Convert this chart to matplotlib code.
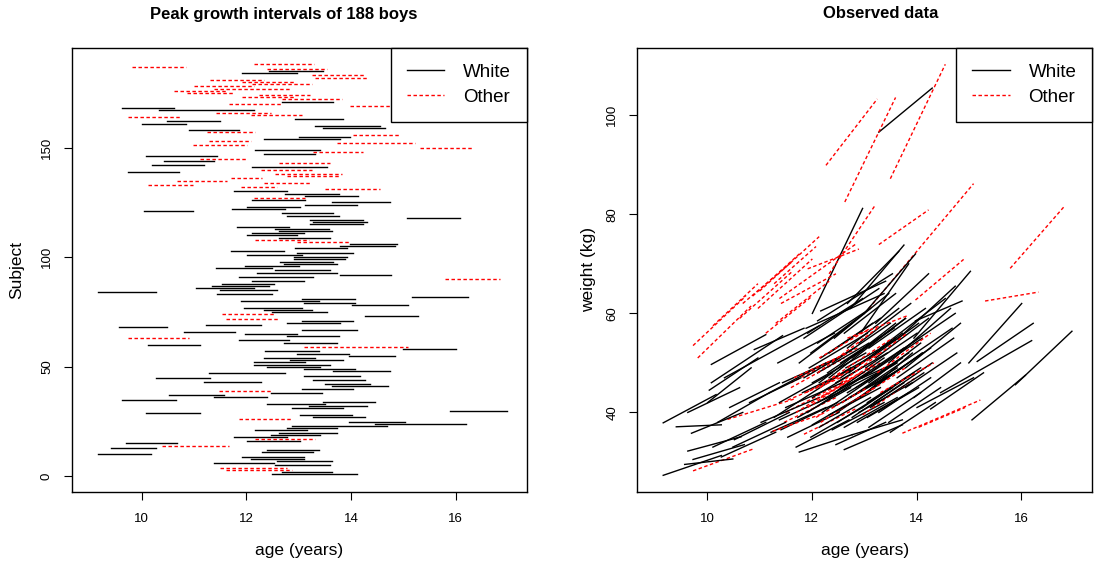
import numpy as np
import matplotlib.pyplot as plt
from matplotlib.lines import Line2D

plt.rcParams['font.family'] = ['Liberation Sans', 'DejaVu Sans']

# ages at start / end of the peak growth interval, subjects 1..188
age_start = [
    12.49, 12.68, 11.60, 11.50, 12.55, 11.38, 12.58, 12.08, 11.92, 9.16,
    12.30, 12.39, 9.41, 10.39, 9.70, 12.01, 12.17, 11.76, 12.46, 12.62,
    12.17, 12.77, 12.87, 14.46, 13.95, 11.85, 13.28, 13.03, 10.08, 15.89,
    12.87, 13.19, 12.39, 13.47, 9.63, 11.38, 10.52, 12.46, 11.47, 13.06,
    13.63, 13.50, 11.19, 13.28, 10.27, 13.09, 11.28, 13.66, 13.09, 12.39,
    12.14, 12.14, 12.84, 12.33, 13.95, 12.97, 12.36, 15.00, 13.09, 10.11,
    12.71, 11.85, 9.73, 12.77, 11.98, 10.81, 13.06, 9.57, 11.22, 12.77,
    13.06, 11.60, 14.27, 11.54, 12.49, 12.33, 11.95, 14.01, 13.09, 11.89,
    13.06, 15.16, 11.44, 9.16, 11.50, 11.03, 11.35, 11.54, 12.11, 15.79,
    11.85, 13.79, 12.20, 12.55, 11.41, 11.98, 12.71, 12.65, 12.90, 12.90,
    12.01, 12.97, 11.70, 12.93, 13.79, 13.98, 12.97, 12.17, 12.62, 12.01,
    12.11, 12.62, 12.55, 11.82, 13.22, 13.28, 13.22, 15.06, 12.77, 12.68,
    10.04, 11.73, 12.01, 13.12, 13.63, 12.11, 12.14, 13.12, 12.74, 11.76,
    13.50, 11.89, 10.11, 12.33, 10.68, 11.70, 12.77, 12.55, 9.73, 12.27,
    12.11, 10.20, 12.63, 10.43, 11.12, 10.08, 12.33, 13.28, 12.17, 15.31,
    10.97, 13.73, 11.28, 12.33, 13.00, 14.04, 11.25, 10.90, 13.47, 13.31,
    10.01, 10.49, 12.93, 9.73, 12.08, 11.41, 10.33, 9.63, 13.98, 11.66,
    12.68, 12.68, 11.92, 12.24, 10.87, 10.62, 11.38, 11.00, 12.11, 11.92,
    11.31, 13.31, 13.25, 11.92, 12.43, 12.39, 9.82, 12.15,
]
age_end = [
    14.11, 13.63, 12.87, 12.77, 13.60, 12.52, 13.63, 13.09, 13.09, 10.17,
    13.28, 13.38, 10.27, 11.66, 10.68, 13.03, 13.31, 12.77, 13.41, 13.73,
    13.16, 13.73, 14.68, 16.20, 15.03, 12.87, 14.27, 14.01, 11.12, 16.97,
    13.85, 14.30, 13.50, 14.46, 10.65, 12.39, 11.57, 13.44, 12.46, 14.04,
    14.71, 14.36, 12.27, 14.27, 11.31, 14.17, 12.74, 14.74, 14.08, 13.41,
    13.60, 13.12, 13.85, 13.31, 14.84, 13.95, 13.38, 16.01, 15.09, 11.12,
    13.73, 12.81, 10.90, 13.76, 12.97, 11.79, 14.11, 10.49, 12.27, 13.79,
    14.04, 12.62, 15.28, 12.55, 13.54, 13.25, 13.06, 15.09, 14.08, 13.38,
    14.08, 16.23, 12.49, 10.27, 12.58, 12.14, 12.43, 12.52, 13.09, 16.84,
    13.28, 14.77, 13.73, 13.60, 12.49, 13.00, 13.73, 13.66, 13.89, 13.92,
    13.06, 14.04, 12.71, 13.92, 14.84, 14.87, 13.98, 13.19, 13.60, 12.97,
    13.09, 13.63, 13.57, 12.81, 14.23, 14.30, 14.23, 16.08, 13.76, 13.66,
    10.97, 12.74, 13.03, 14.11, 14.74, 13.12, 13.12, 14.14, 13.76, 12.77,
    14.55, 12.58, 10.97, 13.22, 11.63, 12.30, 13.79, 13.82, 10.71, 13.25,
    13.54, 11.19, 13.60, 11.38, 12.01, 11.44, 13.31, 14.23, 13.41, 16.33,
    12.01, 15.22, 12.08, 13.79, 13.98, 14.93, 12.17, 11.85, 14.65, 14.55,
    10.84, 11.50, 13.85, 10.74, 13.06, 12.46, 12.14, 10.62, 14.90, 12.68,
    13.66, 13.82, 12.90, 13.22, 11.76, 11.63, 12.84, 12.14, 13.25, 12.93,
    12.33, 14.33, 14.27, 12.97, 13.47, 13.54, 10.84, 13.30,
]
# weights (kg) at start / end of the interval
wt_start = [
    40, 44, 46, 40, 47, 38.5, 42, 45, 40, 37.9,
    48, 36.5, 37.1, 38.6, 35.8, 43, 43, 32, 33.5, 32.5,
    51, 35.5, 44, 44, 55, 35.6, 46, 49, 49.7, 45.6,
    38, 42, 50, 38, 32.2, 42, 34.5, 46, 38, 50.5,
    47, 36, 44, 40, 31, 53, 39, 55, 37, 41,
    46, 37, 45, 52, 43, 41, 43.5, 50, 61, 33,
    48, 47, 28.2, 39, 35, 42, 44, 29.5, 36, 51,
    39, 45, 40.7, 42.5, 38, 43, 49, 41, 46, 57,
    42, 50.3, 46, 27.3, 41, 38, 50, 35, 42, 69.1,
    55, 45, 40, 45, 36.5, 52, 43, 49, 54, 40,
    37.5, 47, 33, 43, 49, 58.5, 39.5, 38, 56, 60,
    48, 37, 50, 44, 58, 96.6, 51, 38.5, 46, 53,
    44.5, 39, 46, 48, 52, 54, 51, 41, 61, 50,
    87.2, 44, 57.5, 68, 62, 40, 42, 46, 30.5, 89.9,
    58.5, 38, 82.5, 41, 56, 46, 39.5, 73.9, 60.5, 62.5,
    61, 35.8, 66, 47, 60, 37, 36.2, 52.7, 50, 53,
    42, 33, 56, 53.5, 39, 62, 47, 40, 62.7, 47,
    62, 55, 69, 43.5, 63.5, 59, 63, 64.5, 48, 41,
    58, 44, 48, 56, 55, 47, 51, 45,
]
wt_end = [
    52, 50, 53, 47, 55, 44, 49, 51, 48, 43.6,
    55, 42, 37.5, 42.7, 40, 49.5, 50, 35.5, 38, 37.5,
    58, 38.5, 57, 54.5, 68.5, 40.9, 53, 56, 55.7, 56.4,
    44, 50, 58, 45, 35.1, 48, 40, 52, 43, 58,
    55, 42, 50, 47, 36, 61, 49, 65.5, 44, 47,
    58, 43, 52, 59, 50, 48, 51, 62, 86.2, 38,
    56, 53, 32.7, 46, 41, 47, 52, 30.6, 41, 59,
    45, 51, 48, 47, 45, 48, 56, 47, 54, 64,
    49, 58, 51, 31.3, 46, 43, 56, 40, 48, 81.8,
    65, 52, 51, 50, 42, 60, 49, 55, 62, 46,
    44, 55, 38.5, 52, 58, 62.5, 47, 45, 64, 81.2,
    54, 43, 57, 49, 68, 105.5, 59, 47.5, 53, 61,
    51, 45, 52, 55, 60, 61, 57, 48, 73.8, 58,
    110.3, 48, 66, 82, 70.5, 44, 49, 56, 33.5, 103.3,
    68, 44, 103.6, 46, 63.5, 55.5, 45, 80.9, 66.5, 64.3,
    71, 42.5, 73.5, 59, 72, 41, 39.6, 57, 61, 63,
    49, 38, 70, 63.5, 45, 68, 57.5, 45, 70.9, 52,
    72.5, 59.5, 73, 50, 72, 68.5, 74, 75.5, 57, 48,
    66.5, 50, 56, 63, 64, 55, 61.5, 52,
]
# subjects in the "Other" group; all the rest are "White"
other_ids = [
    3, 4, 14, 17, 26, 39, 59, 63, 72, 74, 90, 107, 108, 127, 131, 132, 133,
    134, 135, 136, 137, 138, 140, 143, 145, 148, 150, 151, 152, 153, 156,
    157, 164, 165, 166, 169, 170, 172, 173, 174, 175, 176, 177, 178, 179,
    180, 181, 182, 183, 186, 187, 188,
]

subject = np.arange(1, len(age_start) + 1)
is_other = np.isin(subject, other_ids)

fig = plt.figure(figsize=(10.94, 5.69), dpi=100)
ax1 = fig.add_axes([0.0655, 0.1359, 0.4162, 0.7798])
ax2 = fig.add_axes([0.5823, 0.1359, 0.4162, 0.7798])

dash = (0, (2.5, 1.8))
for i in range(len(subject)):
    if is_other[i]:
        kw = dict(color='red', lw=1.0, ls=dash)
    else:
        kw = dict(color='black', lw=1.0, ls='-')
    ax1.plot([age_start[i], age_end[i]], [subject[i], subject[i]], **kw)
    ax2.plot([age_start[i], age_end[i]], [wt_start[i], wt_end[i]], **kw)

ax1.set_ylim(-7, 195.5)
ax1.set_yticks([0, 50, 100, 150])
ax2.set_ylim(24.0, 113.6)
ax2.set_yticks([40, 60, 80, 100])

handles = [Line2D([], [], color='black', lw=1.0),
           Line2D([], [], color='red', lw=1.0, ls=dash)]

for ax in (ax1, ax2):
    ax.set_xlim(8.66, 17.36)
    ax.set_xticks([10, 12, 14, 16])
    ax.tick_params(direction='out', length=5.8, width=0.8, labelsize=9.5)
    ax.tick_params(axis='x', pad=9.6)
    ax.tick_params(axis='y', pad=7.7, labelrotation=90)
    for lab in ax.get_yticklabels():
        lab.set_va('center')
    for s in ax.spines.values():
        s.set_linewidth(1.0)
    ax.set_xlabel('age (years)', fontsize=12.5)
    ax.xaxis.label.set_va('center')
    ax.xaxis.set_label_coords(0.5, -0.1337)
    leg = ax.legend(handles, ['White', 'Other'], loc='upper right',
                    bbox_to_anchor=(1, 1), borderaxespad=0, fontsize=13.5,
                    fancybox=False, edgecolor='black', framealpha=1,
                    handlelength=2.0, handletextpad=1.0, borderpad=0.85,
                    labelspacing=0.42)
    leg.get_frame().set_linewidth(1.0)

ax1.set_ylabel('Subject', fontsize=12.5)
ax1.yaxis.label.set_va('center')
ax1.yaxis.set_label_coords(-0.1201, 0.5)
ax2.set_ylabel('weight (kg)', fontsize=12.5)
ax2.yaxis.label.set_va('center')
ax2.yaxis.set_label_coords(-0.1076, 0.5)

fig.text(284 / 1094, 1 - 14 / 569, 'Peak growth intervals of 188 boys',
         ha='center', va='center', fontsize=12, fontweight='bold')
fig.text(881 / 1094, 1 - 14 / 569, 'Observed data',
         ha='center', va='center', fontsize=12, fontweight='bold')

fig.savefig('out.png', dpi=100)
